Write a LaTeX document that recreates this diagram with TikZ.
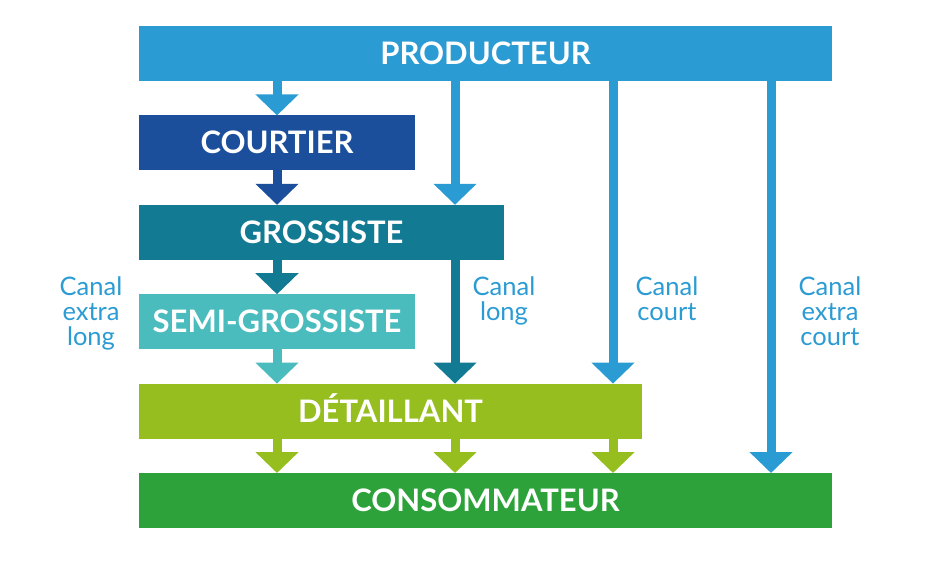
\documentclass[tikz,border=0pt]{standalone}
\usepackage{fontspec}
\setmainfont{Lato}
\usepackage{tikz}
\usetikzlibrary{arrows.meta, positioning}

\definecolor{cprod}{RGB}{43,155,211}
\definecolor{ccourt}{RGB}{27,79,156}
\definecolor{cgross}{RGB}{19,122,147}
\definecolor{csemi}{RGB}{75,188,190}
\definecolor{cdetail}{RGB}{149,190,30}
\definecolor{ccons}{RGB}{45,162,58}

\begin{document}
\begin{tikzpicture}[x=1pt, y=-1pt,
    level/.style={rectangle, inner sep=0pt, outer sep=0pt, minimum height=55pt, text=white,
        text height=22.2pt, text depth=0pt, font=\fontsize{31}{32}\selectfont\bfseries},
    flow/.style={line width=9pt, -{Triangle[width=42pt, length=21pt]}},
    canal/.style={align=center, inner sep=0pt, anchor=north, text=cprod,
        font=\fontsize{25.5}{25}\selectfont},
    node distance=34.4pt]
        \useasboundingbox (0,0) rectangle (943,567);
        % channel columns
        \coordinate (c1) at (277,0);
        \coordinate (c2) at (455,0);
        \coordinate (c3) at (613,0);
        \coordinate (c4) at (771,0);

        \node[level, fill=cprod, minimum width=693pt, anchor=north west] (prod) at (139,26) {PRODUCTEUR};
        \node[level, fill=ccourt, minimum width=276pt] (court) [below right = 34.4pt and 0pt of prod.south west] {COURTIER};
        \node[level, fill=cgross, minimum width=365pt] (gross) [below right = 34.4pt and 0pt of court.south west] {GROSSISTE};
        \node[level, fill=csemi, minimum width=276pt] (semi) [below right = 34.4pt and 0pt of gross.south west] {SEMI-GROSSISTE};
        \node[level, fill=cdetail, minimum width=503pt] (detail) [below right = 34.4pt and 0pt of semi.south west] {DÉTAILLANT};
        \node[level, fill=ccons, minimum width=693pt] (cons) [below right = 34.4pt and 0pt of detail.south west] {CONSOMMATEUR};

        \node[canal] (lxl) at (91,277) {Canal\\extra\\long};
        \node[canal] (ll) at (504,277) {Canal\\long};
        \node[canal] (lc) at (667,277) {Canal\\court};
        \node[canal] (lxc) at (830,277) {Canal\\extra\\court};

        % canal extra long
        \draw[flow, cprod] (prod.south -| c1) -- (court.north -| c1);
        \draw[flow, ccourt] (court.south -| c1) -- (gross.north -| c1);
        \draw[flow, cgross] (gross.south -| c1) -- (semi.north -| c1);
        \draw[flow, csemi] (semi.south -| c1) -- (detail.north -| c1);
        \draw[flow, cdetail] (detail.south -| c1) -- (cons.north -| c1);
        % canal long
        \draw[flow, cprod] (prod.south -| c2) -- (gross.north -| c2);
        \draw[flow, cgross] (gross.south -| c2) -- (detail.north -| c2);
        \draw[flow, cdetail] (detail.south -| c2) -- (cons.north -| c2);
        % canal court
        \draw[flow, cprod] (prod.south -| c3) -- (detail.north -| c3);
        \draw[flow, cdetail] (detail.south -| c3) -- (cons.north -| c3);
        % canal extra court
        \draw[flow, cprod] (prod.south -| c4) -- (cons.north -| c4);
    \end{tikzpicture}
\end{document}
